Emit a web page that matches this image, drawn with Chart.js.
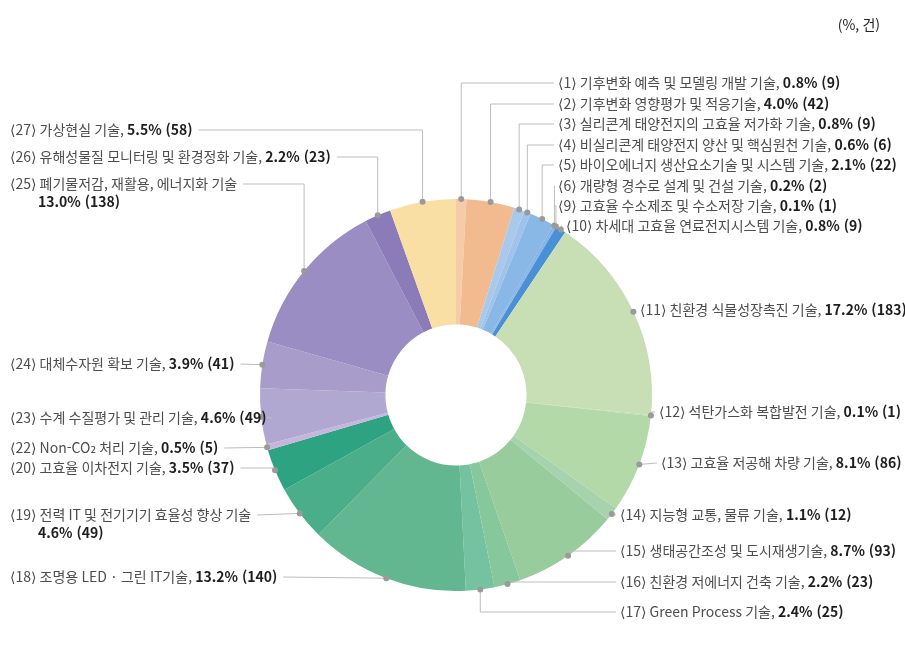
<!DOCTYPE html>
<html lang="ko">
<head>
<meta charset="utf-8">
<script src="https://cdn.jsdelivr.net/npm/chart.js@4"></script>
<style>
  html, body { margin: 0; padding: 0; background: #fff; }
  #wrap { position: relative; width: 905px; height: 660px; }
</style>
</head>
<body>
<div id="wrap"><canvas id="grafico" width="905" height="660"></canvas></div>
<script>
const codigos = [1, 2, 3, 4, 5, 6, 9, 10, 11, 12, 13, 14, 15, 16, 17, 18, 19, 20, 22, 23, 24, 25, 26, 27];
const nombres = [
    "기후변화 예측 및 모델링 개발 기술",
    "기후변화 영향평가 및 적응기술",
    "실리콘계 태양전지의 고효율 저가화 기술",
    "비실리콘계 태양전지 양산 및 핵심원천 기술",
    "바이오에너지 생산요소기술 및 시스템 기술",
    "개량형 경수로 설계 및 건설 기술",
    "고효율 수소제조 및 수소저장 기술",
    "차세대 고효율 연료전지시스템 기술",
    "친환경 식물성장촉진 기술",
    "석탄가스화 복합발전 기술",
    "고효율 저공해 차량 기술",
    "지능형 교통, 물류 기술",
    "생태공간조성 및 도시재생기술",
    "친환경 저에너지 건축 기술",
    "Green Process 기술",
    "조명용 LED · 그린 IT기술",
    "전력 IT 및 전기기기 효율성 향상 기술",
    "고효율 이차전지 기술",
    "Non-CO₂ 처리 기술",
    "수계 수질평가 및 관리 기술",
    "대체수자원 확보 기술",
    "폐기물저감, 재활용, 에너지화 기술",
    "유해성물질 모니터링 및 환경정화 기술",
    "가상현실 기술"
];
const porcentajes = [0.8, 4.0, 0.8, 0.6, 2.1, 0.2, 0.1, 0.8, 17.2, 0.1, 8.1, 1.1, 8.7, 2.2, 2.4, 13.2, 4.6, 3.5, 0.5, 4.6, 3.9, 13.0, 2.2, 5.5];
const cantidades = [9, 42, 9, 6, 22, 2, 1, 9, 183, 1, 86, 12, 93, 23, 25, 140, 49, 37, 5, 49, 41, 138, 23, 58];
const colores = [
    "#f6cba9", "#f2bb8f", "#a9c9ec", "#9fc3ea", "#8ab8e6", "#80b1e3", "#78ace2", "#4a90d6",
    "#c8deb5", "#bddcb0", "#b3d9a9", "#a6d3ae", "#98cc9c", "#86c79c", "#74c2a0", "#62b690",
    "#4aae8a", "#2ea382", "#c5b6de", "#b1a8d1", "#a79cca", "#9a8dc3", "#8b7bb8", "#f9dfa3"
];

// posicion del texto de cada etiqueta (lado, x, y)
const lados = ["r", "r", "r", "r", "r", "r", "r", "r", "r", "r", "r", "r", "r", "r", "r", "l", "l", "l", "l", "l", "l", "l", "l", "l"];
const etiquetaX = [558, 558, 558, 558, 558, 558, 558, 566, 640, 659, 661, 620, 620, 620, 620, 10, 10, 10, 10, 10, 10, 10, 10, 10];
const etiquetaY = [83, 104, 124, 145, 165, 186, 206, 226, 310, 412, 463, 515, 551, 582, 612, 577, 515, 468, 448, 418, 364, 184, 157, 130];
const dosLineas = [16, 21];

const fuente = '"Noto Sans CJK KR", "DejaVu Sans", sans-serif';
const tam = 14;

const etiquetas = {
    id: "etiquetas",
    afterDraw(chart) {
        const ctx = chart.ctx;
        const arcos = chart.getDatasetMeta(0).data;
        ctx.save();
        ctx.textBaseline = "middle";
        arcos.forEach((arco, i) => {
            const medio = (arco.startAngle + arco.endAngle) / 2;
            const px = arco.x + Math.cos(medio) * arco.outerRadius;
            const py = arco.y + Math.sin(medio) * arco.outerRadius;
            const y = etiquetaY[i];
            const partido = dosLineas.includes(i);
            const texto = `⟨${codigos[i]}⟩ ${nombres[i]}` + (partido ? "" : ", ");
            const numero = `${porcentajes[i].toFixed(1)}% (${cantidades[i]})`;

            ctx.font = `${tam}px ${fuente}`;
            const anchoTexto = ctx.measureText(texto).width;
            ctx.font = `bold ${tam}px ${fuente}`;
            const anchoNumero = ctx.measureText(numero).width;

            // linea guia
            let finX;
            if (lados[i] === "r") {
                finX = etiquetaX[i] - 4;
            } else {
                finX = etiquetaX[i] + anchoTexto + (partido ? 0 : anchoNumero) + 6;
            }
            ctx.strokeStyle = "#bdbdbd";
            ctx.lineWidth = 1;
            ctx.beginPath();
            ctx.moveTo(px, py);
            if (Math.abs(py - y) > 2) ctx.lineTo(px, y);
            ctx.lineTo(finX, y);
            ctx.stroke();

            ctx.fillStyle = "#9a9a9a";
            ctx.beginPath();
            ctx.arc(px, py, 3, 0, Math.PI * 2);
            ctx.fill();

            // texto
            ctx.font = `${tam}px ${fuente}`;
            ctx.fillStyle = "#4d4d4d";
            ctx.fillText(texto, etiquetaX[i], y);
            ctx.font = `bold ${tam}px ${fuente}`;
            ctx.fillStyle = "#1e1e1e";
            if (partido) {
                ctx.fillText(numero, etiquetaX[i] + 28, y + 18);
            } else {
                ctx.fillText(numero, etiquetaX[i] + anchoTexto, y);
            }
        });

        ctx.font = `14px ${fuente}`;
        ctx.fillStyle = "#222";
        ctx.textAlign = "right";
        ctx.fillText("(%, 건)", 880, 25);
        ctx.restore();
    }
};

document.addEventListener("DOMContentLoaded", () => {
    const ctx = document.getElementById("grafico").getContext("2d");
    new Chart(ctx, {
        type: "doughnut",
        data: {
            labels: nombres,
            datasets: [{
                data: cantidades,
                backgroundColor: colores,
                borderWidth: 0
            }]
        },
        options: {
            responsive: false,
            animation: false,
            cutout: "36%",
            layout: { padding: { top: 199, bottom: 69, left: 260, right: 253 } },
            plugins: {
                legend: { display: false },
                tooltip: { enabled: false }
            }
        },
        plugins: [etiquetas]
    });
});
</script>
</body>
</html>
